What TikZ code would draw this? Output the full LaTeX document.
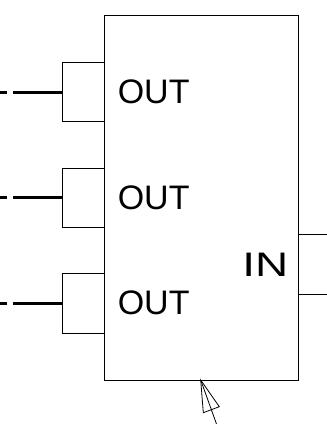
\documentclass[tikz,border=0pt]{standalone}
\usepackage{fontspec}
\setmainfont{Liberation Sans}
\usepackage{tikz}

\tikzset{
	thinline/.style={line width=0.7pt},
	lead/.style={line width=2.1pt},
	pinlabel/.style={font=\fontsize{25.5}{27}\selectfont, inner sep=0pt}
}

\begin{document}
\begin{tikzpicture}[x=0.75pt,y=-0.75pt]
	\useasboundingbox (0,0) rectangle (327,424);

	\coordinate (nw) at (104,15);
	\coordinate (ne) at (298,15);
	\coordinate (se) at (298,380);
	\coordinate (sw) at (104,380);
	\draw[thinline] (nw) -- (ne) -- (se) -- (sw) -- cycle;

	% output tabs
	\foreach \name/\top/\mid/\bot in {p/62.5/92.2/121.5, q/168/197.6/227, r/273.5/303.6/333} {
		\coordinate (\name a) at (104,\top);
		\coordinate (\name b) at (62,\top);
		\coordinate (\name c) at (62,\bot);
		\coordinate (\name d) at (104,\bot);
		\coordinate (\name e) at (62,\mid);
		\coordinate (\name f) at (13,\mid);
		\coordinate (\name g) at (7,\mid);
		\coordinate (\name h) at (0,\mid);
		\draw[thinline] (\name a) -- (\name b) -- (\name c) -- (\name d);
		\draw[lead] (\name e) -- (\name f);
		\draw[lead] (\name g) -- (\name h);
	}

	\node[pinlabel,anchor=west] (outa) at (117.5,92) {OUT};
	\node[pinlabel,anchor=west] (outb) at (117.5,197.5) {OUT};
	\node[pinlabel,anchor=west] (outc) at (117.5,303) {OUT};
	\node[pinlabel,anchor=east] (in) at (288.5,264.5) {\scalebox{1.35}[1]{IN}};

	% input lines
	\coordinate (ia) at (298,234.5);
	\coordinate (ib) at (327,234.5);
	\coordinate (ic) at (298,294);
	\coordinate (id) at (327,294);
	\draw[thinline] (ia) -- (ib);
	\draw[thinline] (ic) -- (id);

	% clock arrow
	\coordinate (tip) at (200.7,380);
	\coordinate (left) at (203.3,412.7);
	\coordinate (right) at (219.3,406.7);
	\coordinate (tail) at (216.5,424);
	\draw[line width=0.6pt] (tip) -- (left) -- (right) -- cycle;
	\draw[line width=0.6pt] (tip) -- (tail);
\end{tikzpicture}
\end{document}
